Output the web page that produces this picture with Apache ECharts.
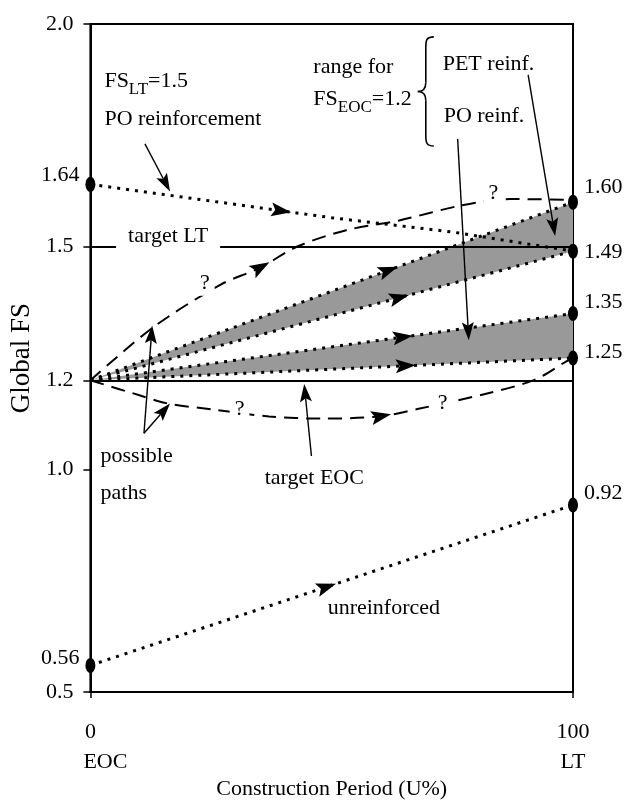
<!DOCTYPE html>
<html><head><meta charset="utf-8">
<script src="https://cdn.jsdelivr.net/npm/echarts@6/dist/echarts.min.js"></script>
<style>html,body{margin:0;padding:0;background:#fff}#c{width:627px;height:805px}</style>
</head><body><div id="c"></div>
<script>
// ---------------- data ----------------
const xTickValues = [0, 100];
const xTickLabels = ['0\nEOC', '100\nLT'];
const yTickValues = [0.5, 1.0, 1.2, 1.5, 2.0];
const yTickLabels = ['0.5', '1.0', '1.2', '1.5', '2.0'];
const targetLT = 1.5;
const targetEOC = 1.2;
const poReinforcement = [[0, 1.64], [50, 1.565], [75, 1.533], [100, 1.49]];
const petTop = [[0, 1.2], [100, 1.60]];
const petBottom = [[0, 1.2], [100, 1.49]];
const poTop = [[0, 1.2], [100, 1.35]];
const poBottom = [[0, 1.2], [100, 1.25]];
const unreinforced = [[0, 0.56], [100, 0.92]];
const pathUp = [[0, 1.2], [13, 1.319], [27, 1.415], [35, 1.452], [43, 1.501], [53, 1.537], [64, 1.559], [77, 1.593], [87, 1.607], [100, 1.605]];
const pathDown = [[0, 1.2], [10, 1.167], [16, 1.148], [25, 1.135], [37, 1.119], [48, 1.114], [60, 1.119], [68, 1.136], [82, 1.17], [92, 1.201], [99, 1.245], [100, 1.25]];
const startDots = [[0, 1.64], [0, 0.56]];
const endDots = [[100, 1.60], [100, 1.49], [100, 1.35], [100, 1.25], [100, 0.92]];

// ---------------- layout / annotations ----------------
const FONT = 'Liberation Serif';
const startLabelDy = [-9, -7];
const endLabelDy = [-15, 1, -11, -6, -12];
const notes = [
  { text: '{n|FS}{s|LT}{n|=1.5}', at: [2.9, 1.871], align: 'left' },
  { text: 'PO reinforcement', at: [2.9, 1.786], align: 'left' },
  { text: 'range for', at: [46.2, 1.904], align: 'left' },
  { text: '{n|FS}{s|EOC}{n|=1.2}', at: [46.2, 1.831], align: 'left' },
  { text: 'PET reinf.', at: [73, 1.909], align: 'left' },
  { text: 'PO reinf.', at: [73.2, 1.793], align: 'left' },
  { text: 'target LT', at: [16.1, 1.519], bg: [3, 12, 7, 12] },
  { text: '?', at: [23.7, 1.419], bg: [0, 5, 0, 5] },
  { text: '?', at: [83.5, 1.619], bg: [0, 5, 0, 5] },
  { text: '?', at: [30.9, 1.136], bg: [0, 5, 0, 5] },
  { text: '?', at: [73, 1.148], bg: [0, 5, 0, 5] },
  { text: 'possible\npaths', at: [2.1, 0.988], align: 'left', lh: 37 },
  { text: 'target EOC', at: [46.4, 0.981] },
  { text: 'unreinforced', at: [60.8, 0.689] }
];
const pointers = [
  [[11.3, 1.731], [16.5, 1.624]],
  [[90.7, 1.886], [96.3, 1.524]],
  [[76.1, 1.742], [78.4, 1.290]],
  [[11.1, 1.081], [12.8, 1.323]],
  [[11.1, 1.081], [16.5, 1.148]],
  [[45.8, 1.030], [44.3, 1.192]]
];
const flowArrows = [
  [poReinforcement, 41.6], [petTop, 63.7], [petBottom, 66], [poTop, 66.8], [poBottom, 67.4],
  [unreinforced, 50.9], [pathUp, 37.1], [pathDown, 62.3]
];
const brace = { u: 69.5, top: 1.971, bottom: 1.726 };
const bands = [[petBottom, petTop], [poBottom, poTop]];

// ---------------- helpers ----------------
function interp(line, u) {
  for (let i = 0; i < line.length - 1; i++) {
    const [u0, v0] = line[i], [u1, v1] = line[i + 1];
    if (u >= u0 && u <= u1) return v0 + (v1 - v0) * (u - u0) / (u1 - u0);
  }
  return line[line.length - 1][1];
}
function arrowHead(tip, from, len, hw) {
  const dx = tip[0] - from[0], dy = tip[1] - from[1];
  const L = Math.hypot(dx, dy) || 1;
  const ux = dx / L, uy = dy / L, nx = -uy, ny = ux;
  const bx = tip[0] - ux * len, by = tip[1] - uy * len;
  const mx = tip[0] - ux * len * 0.8, my = tip[1] - uy * len * 0.8;
  return { points: [tip, [bx + nx * hw, by + ny * hw], [mx, my], [bx - nx * hw, by - ny * hw]], notch: [mx, my] };
}
const dotted = { color: '#000', width: 3, type: [3, 6], cap: 'butt' };
const dashed = { color: '#000', width: 2, type: [14, 8] };
function lineSeries(data, style, smooth) {
  return { type: 'line', data: data, symbol: 'none', smooth: smooth || false, lineStyle: style, z: 4, silent: true };
}
function findIdx(arr, v) { return arr.findIndex(t => Math.abs(t - v) < 1e-6); }
const txt = { fontFamily: FONT, fontSize: 22, color: '#000', opacity: 1 };

const chart = echarts.init(document.getElementById('c'));
const option = {
  animation: false,
  backgroundColor: '#fff',
  grid: { left: 88, right: 54, top: 24, bottom: 107, show: true, borderColor: '#000', borderWidth: 2, backgroundColor: 'transparent' },
  xAxis: {
    type: 'value', min: 0, max: 100, interval: 100,
    axisLine: { lineStyle: { color: '#000', width: 2 } },
    axisTick: { show: true, length: 6, lineStyle: { color: '#000', width: 1.5 } },
    splitLine: { show: false },
    axisLabel: {
      margin: 25,
      formatter: v => {
        const i = findIdx(xTickValues, v);
        if (i < 0) return '';
        const p = xTickLabels[i].split('\n');
        return i === 0 ? '{v|' + p[0] + '}\n{e|' + p[1] + '}' : '{v|' + p[0] + '}\n{v|' + p[1] + '}';
      },
      rich: {
        v: { fontFamily: FONT, fontSize: 22, color: '#000', lineHeight: 30 },
        e: { fontFamily: FONT, fontSize: 22, color: '#000', lineHeight: 30, padding: [0, 0, 0, 30] }
      }
    },
    name: 'Construction Period (U%)', nameLocation: 'middle', nameGap: 84,
    nameTextStyle: { fontFamily: FONT, fontSize: 22, color: '#000' }
  },
  yAxis: {
    type: 'value', min: 0.5, max: 2.0,
    axisLine: { show: true, lineStyle: { color: '#000', width: 2 } },
    axisTick: { show: true, length: 7, customValues: yTickValues, lineStyle: { color: '#000', width: 1.5 } },
    splitLine: { show: false },
    axisLabel: {
      customValues: yTickValues, margin: 17,
      formatter: v => { const i = findIdx(yTickValues, v); return i < 0 ? '' : yTickLabels[i]; },
      fontFamily: FONT, fontSize: 22, color: '#000'
    },
    name: 'Global FS', nameLocation: 'middle', nameGap: 50,
    nameTextStyle: { fontFamily: FONT, fontSize: 27, color: '#000' }
  },
  series: [
    // grey ranges
    {
      type: 'custom', z: 2, silent: true, encode: { x: 0, y: 1 },
      data: bands.map(b => b[1][b[1].length - 1]),
      renderItem: (params, api) => {
        const [bot, top] = bands[params.dataIndex];
        const pts = top.map(p => api.coord(p)).concat(bot.slice().reverse().map(p => api.coord(p)));
        return { type: 'polygon', shape: { points: pts }, style: { fill: '#999999' } };
      }
    },
    // target lines
    {
      type: 'line', data: [], z: 3, silent: true,
      markLine: {
        silent: true, symbol: 'none', label: { show: false },
        lineStyle: { color: '#000', width: 2, type: 'solid', opacity: 1 },
        data: [{ yAxis: targetLT }, { yAxis: targetEOC }]
      }
    },
    lineSeries(poReinforcement, dotted),
    lineSeries(petTop, dotted),
    lineSeries(petBottom, dotted),
    lineSeries(poTop, dotted),
    lineSeries(poBottom, dotted),
    lineSeries(unreinforced, dotted),
    lineSeries(pathUp, dashed, 0.3),
    lineSeries(pathDown, dashed, 0.3),
    // flow arrowheads on the curves
    {
      type: 'custom', z: 6, silent: true, encode: { x: 0, y: 1 },
      data: flowArrows.map(a => [a[1], interp(a[0], a[1])]),
      renderItem: (params, api) => {
        const [line, u] = flowArrows[params.dataIndex];
        const tip = api.coord([u, interp(line, u)]);
        const from = api.coord([u - 2, interp(line, u - 2)]);
        const h = arrowHead(tip, from, 20, 7);
        return { type: 'polygon', shape: { points: h.points }, style: { fill: '#000' } };
      }
    },
    // pointer arrows
    {
      type: 'custom', z: 7, silent: true, encode: { x: 0, y: 1 },
      data: pointers.map(p => p[1]),
      renderItem: (params, api) => {
        const [a, b] = pointers[params.dataIndex];
        const p0 = api.coord(a), p1 = api.coord(b);
        const h = arrowHead(p1, p0, 18, 6);
        return {
          type: 'group', children: [
            { type: 'line', shape: { x1: p0[0], y1: p0[1], x2: h.notch[0], y2: h.notch[1] }, style: { stroke: '#000', lineWidth: 1.4 } },
            { type: 'polygon', shape: { points: h.points }, style: { fill: '#000' } }
          ]
        };
      }
    },
    // brace
    {
      type: 'custom', z: 7, silent: true, encode: { x: 0, y: 1 },
      data: [[brace.u, brace.top]],
      renderItem: (params, api) => {
        const t = api.coord([brace.u, brace.top]), b = api.coord([brace.u, brace.bottom]);
        const x = t[0], yT = t[1], yB = b[1], yM = (yT + yB) / 2, w = 8;
        const st = { stroke: '#000', lineWidth: 1.6, fill: null };
        return {
          type: 'group', children: [
            { type: 'bezierCurve', shape: { x1: x + w, y1: yT, cpx1: x + 1, cpy1: yT, cpx2: x, cpy2: yT + 3, x2: x, y2: yT + 10 }, style: st },
            { type: 'line', shape: { x1: x, y1: yT + 10, x2: x, y2: yM - 9 }, style: st },
            { type: 'bezierCurve', shape: { x1: x, y1: yM - 9, cpx1: x, cpy1: yM - 3, cpx2: x - 3, cpy2: yM, x2: x - w, y2: yM }, style: st },
            { type: 'bezierCurve', shape: { x1: x - w, y1: yM, cpx1: x - 3, cpy1: yM, cpx2: x, cpy2: yM + 3, x2: x, y2: yM + 9 }, style: st },
            { type: 'line', shape: { x1: x, y1: yM + 9, x2: x, y2: yB - 10 }, style: st },
            { type: 'bezierCurve', shape: { x1: x, y1: yB - 10, cpx1: x, cpy1: yB - 3, cpx2: x + 1, cpy2: yB, x2: x + w, y2: yB }, style: st }
          ]
        };
      }
    },
    // end dots with value labels
    {
      type: 'scatter', z: 8, silent: true, symbol: 'circle', symbolSize: [10, 15], itemStyle: { color: '#000', opacity: 1 },
      data: startDots.map((p, i) => ({
        value: p,
        label: { show: true, position: 'left', distance: 6, offset: [0, startLabelDy[i]], formatter: q => q.value[1].toFixed(2), ...txt }
      })).concat(endDots.map((p, i) => ({
        value: p,
        label: { show: true, position: 'right', distance: 6, offset: [0, endLabelDy[i]], formatter: q => q.value[1].toFixed(2), ...txt }
      })))
    },
    // text notes
    {
      type: 'scatter', z: 9, silent: true, symbolSize: 0, itemStyle: { color: '#fff', opacity: 1 },
      data: notes.map(n => ({
        value: n.at,
        label: {
          show: true, position: 'inside', formatter: n.text,
          align: n.align || 'center', verticalAlign: 'middle',
          lineHeight: n.lh || 26,
          backgroundColor: n.bg ? '#fff' : 'transparent', padding: n.bg || 0,
          ...txt,
          rich: {
            n: { fontFamily: FONT, fontSize: 22, color: '#000' },
            s: { fontFamily: FONT, fontSize: 17, color: '#000', padding: [16, 0, 0, 0] }
          }
        }
      }))
    }
  ]
};
chart.setOption(option);
</script>
</body></html>
